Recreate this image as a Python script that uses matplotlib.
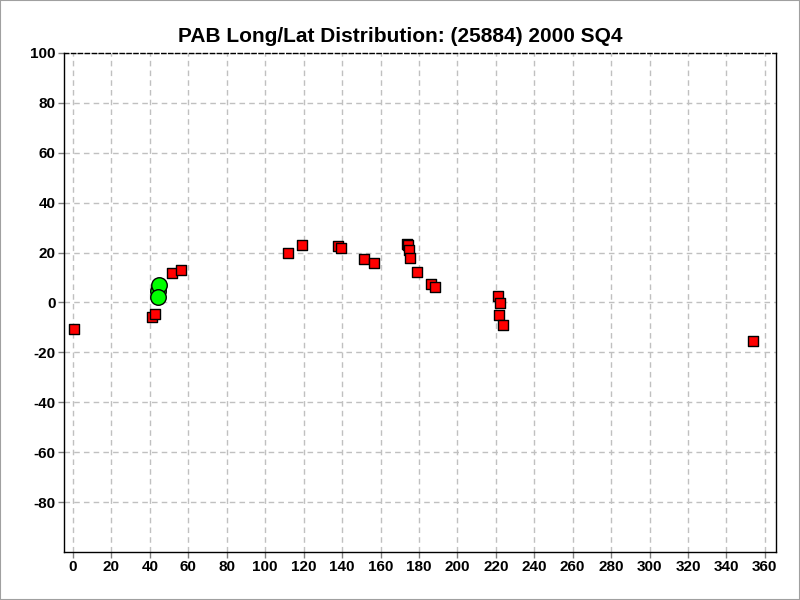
import matplotlib
matplotlib.use("Agg")
import matplotlib.pyplot as plt
from matplotlib.patches import Rectangle

plt.rcParams['font.family'] = ['Liberation Sans', 'DejaVu Sans']

title = "PAB Long/Lat Distribution: (25884) 2000 SQ4"

red_long = [0.5, 41.3, 42.9, 51.7, 56.3, 112.0, 119.3, 138.0, 139.6, 151.6, 156.8,
            173.9, 174.5, 175.0, 175.5, 179.1, 186.4, 188.5,
            221.3, 222.0, 221.8, 223.9, 353.8]
red_lat = [-10.8, -5.7, -4.5, 11.9, 13.1, 19.9, 23.1, 22.7, 21.9, 17.5, 15.9,
           23.5, 23.1, 21.2, 17.9, 12.3, 7.5, 6.3,
           2.5, -0.1, -4.9, -9.2, -15.6]

green_long = [44.0, 44.7, 44.2]
green_lat = [4.6, 7.0, 2.2]

xticks = list(range(0, 361, 20))
yticks = list(range(-80, 101, 20))

fig = plt.figure(figsize=(8, 6), dpi=100)
ax = fig.add_axes([0.08, 0.08, 0.89, 0.8317])

ax.scatter(red_long, red_lat, marker='s', s=62, facecolor='#ff0000',
           edgecolor='black', linewidth=1.0, zorder=3)
ax.scatter(green_long, green_lat, marker='o', s=125, facecolor='#00ff00',
           edgecolor='black', linewidth=1.0, zorder=4)

ax.set_xlim(-4.7, 365.8)
ax.set_ylim(-100, 100)
ax.set_xticks(xticks)
ax.set_yticks(yticks)
ax.set_xticklabels([str(v) for v in xticks], fontsize=11, fontweight='bold')
ax.set_yticklabels([str(v) for v in yticks], fontsize=11, fontweight='bold')
ax.tick_params(direction='out', length=4, width=1, color='#808080', pad=2)

ax.grid(True, color='#c0c0c0', linestyle=(0, (4, 3)), linewidth=1)
ax.set_axisbelow(True)

for side in ['left', 'right', 'bottom']:
    ax.spines[side].set_color('black')
    ax.spines[side].set_linewidth(1)
ax.spines['top'].set_linestyle((0, (3, 2)))
ax.spines['top'].set_linewidth(1)
ax.spines['top'].set_color('black')

fig.text(0.5, 0.94, title, ha='center', va='center', fontsize=15, fontweight='bold')

fig.patches.append(Rectangle((0, 0), 1, 1, transform=fig.transFigure,
                             fill=False, edgecolor='#a0a0a0', linewidth=1.5))

fig.savefig('out.png', dpi=100)
